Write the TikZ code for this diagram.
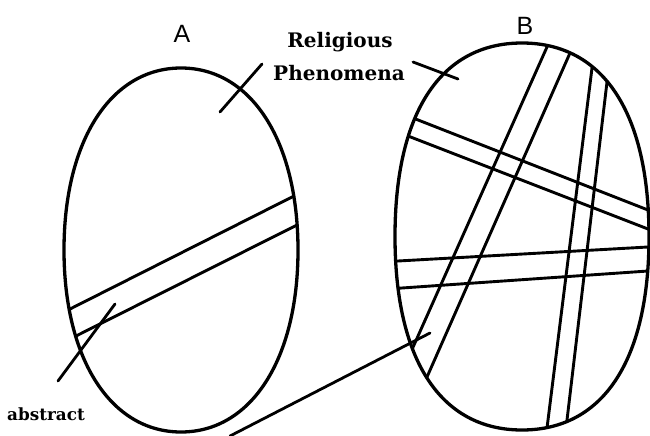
\documentclass[tikz,border=0pt]{standalone}
\usepackage{fontspec}
\setmainfont{DejaVu Serif}
\newfontfamily\lettfont{Liberation Sans}
\begin{document}
\begin{tikzpicture}[x=1pt,y=-1pt,
  outline/.style={line width=3.3pt},
  band/.style={line width=2.9pt, shorten <=-30pt, shorten >=-30pt},
  leader/.style={line width=2.8pt, line cap=round},
  lett/.style={font=\lettfont\fontsize{25}{25}\selectfont, anchor=base, inner sep=0pt},
  lbl/.style={font=\fontsize{20}{20}\selectfont\bfseries, anchor=base, inner sep=0pt},
  lbls/.style={font=\fontsize{16.8}{17}\selectfont\bfseries, anchor=base, inner sep=0pt}]
\useasboundingbox (0,0) rectangle (650,436);
% ---------- oval A ----------
\begin{scope}
  \clip (298,250) .. controls (298,140.8) and (251.2,68) .. (181,68)
        .. controls (110.8,68) and (64,140.8) .. (64,250)
        .. controls (64,359.2) and (110.8,432) .. (181,432)
        .. controls (251.2,432) and (298,359.2) .. (298,250) -- cycle;
  \coordinate (a1s) at (72,308);  \coordinate (a1e) at (292,197);
  \coordinate (a2s) at (78,335);  \coordinate (a2e) at (297,225);
  \draw[band] (a1s) -- (a1e);
  \draw[band] (a2s) -- (a2e);
\end{scope}
\draw[outline] (298,250) .. controls (298,140.8) and (251.2,68) .. (181,68)
        .. controls (110.8,68) and (64,140.8) .. (64,250)
        .. controls (64,359.2) and (110.8,432) .. (181,432)
        .. controls (251.2,432) and (298,359.2) .. (298,250) -- cycle;
% ---------- oval B ----------
\begin{scope}
  \clip (649,236.5) .. controls (649,112.7) and (603.3,43) .. (522,43)
        .. controls (440.7,43) and (395,112.7) .. (395,236.5)
        .. controls (395,360.3) and (440.7,430) .. (522,430)
        .. controls (603.3,430) and (649,360.3) .. (649,236.5) -- cycle;
  \coordinate (b1s) at (413,118); \coordinate (b1e) at (648,210);
  \coordinate (b2s) at (408,136); \coordinate (b2e) at (648,229);
  \coordinate (b3s) at (547,47);  \coordinate (b3e) at (414,345);
  \coordinate (b4s) at (570,53);  \coordinate (b4e) at (427,377);
  \coordinate (b5s) at (592,68);  \coordinate (b5e) at (547,428);
  \coordinate (b6s) at (607,82);  \coordinate (b6e) at (567,420);
  \coordinate (b7s) at (398,261); \coordinate (b7e) at (648,247);
  \coordinate (b8s) at (402,288); \coordinate (b8e) at (648,271);
  \foreach \p in {1,...,8} {\draw[band] (b\p s) -- (b\p e);}
\end{scope}
\draw[outline] (649,236.5) .. controls (649,112.7) and (603.3,43) .. (522,43)
        .. controls (440.7,43) and (395,112.7) .. (395,236.5)
        .. controls (395,360.3) and (440.7,430) .. (522,430)
        .. controls (603.3,430) and (649,360.3) .. (649,236.5) -- cycle;
% ---------- labels ----------
\node[lett] (labA) at (182,42) {A};
\node[lett] (labB) at (525,35) {B};
\node[lbl] (rel) at (340,48) {Religious};
\node[lbl] (phen) at (339,80) {Phenomena};
\node[lbls] (abs) at (46,420) {abstract};
% ---------- leaders ----------
\coordinate (lA1) at (220,112); \coordinate (lA2) at (262,64);
\coordinate (lB1) at (413,62);  \coordinate (lB2) at (458,79);
\coordinate (lC1) at (58,381);  \coordinate (lC2) at (115,304);
\coordinate (lD1) at (230,436); \coordinate (lD2) at (430,333);
\draw[leader] (lA1) -- (lA2);
\draw[leader] (lB1) -- (lB2);
\draw[leader] (lC1) -- (lC2);
\draw[leader] (lD1) -- (lD2);
\end{tikzpicture}
\end{document}
